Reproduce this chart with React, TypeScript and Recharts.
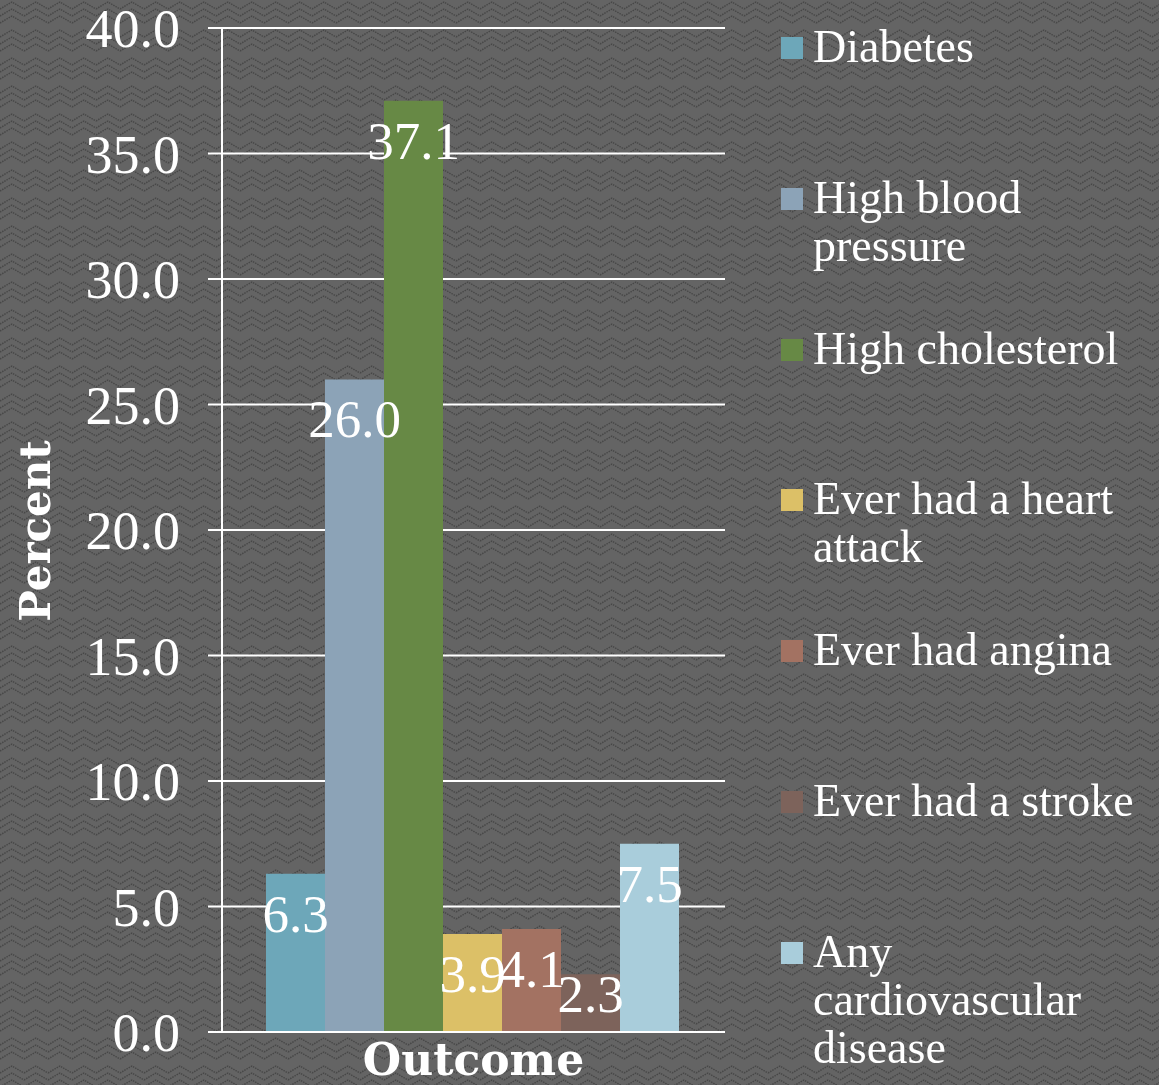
import React from "react";
import {
  BarChart,
  Bar,
  XAxis,
  YAxis,
  CartesianGrid,
  LabelList,
} from "recharts";

// series / values
const categories = ["Outcome"];
const seriesKeys = ["diabetes", "hbp", "chol", "heart", "angina", "stroke", "cvd"];
const seriesNames = [
  "Diabetes",
  "High blood pressure",
  "High cholesterol",
  "Ever had a heart attack",
  "Ever had angina",
  "Ever had a stroke",
  "Any cardiovascular disease",
];
const seriesValues = [6.3, 26.0, 37.1, 3.9, 4.1, 2.3, 7.5];
const seriesColors = ["#6da7b9", "#8ca3b7", "#678945", "#dcc067", "#a37262", "#7d635b", "#a9cddb"];
const yTicks = [0, 5, 10, 15, 20, 25, 30, 35, 40];

const data = categories.map((name) => {
  const row: any = { name };
  seriesKeys.forEach((k, i) => (row[k] = seriesValues[i]));
  return row;
});

const serif = "'Liberation Serif', 'Times New Roman', serif";
const boldSerif = "'DejaVu Serif', serif";

const patternSvg =
  "<svg xmlns='http://www.w3.org/2000/svg' width='24' height='28'>" +
  "<rect width='24' height='28' fill='#646464'/>" +
  "<path d='M0 9 L12 2 L24 9 M0 16 L12 9 L24 16 M0 23 L12 16 L24 23' stroke='#474747' stroke-width='1.5' stroke-dasharray='1.5 1' fill='none'/>" +
  "</svg>";

// label sits ~40px under the bar top, but never below the baseline
const BarValue = (props: any) => {
  const { x, y, width, height, value } = props;
  const cy = Math.min(y + 40, y + height - 38);
  return (
    <text
      x={x + width / 2}
      y={cy}
      textAnchor="middle"
      dominantBaseline="central"
      fill="#ffffff"
      fontSize={53}
      fontFamily={serif}
    >
      {Number(value).toFixed(1)}
    </text>
  );
};

const PercentLabel = () => (
  <text
    x={35}
    y={531}
    transform="rotate(-90, 35, 531)"
    textAnchor="middle"
    dominantBaseline="central"
    fill="#ffffff"
    fontSize={42}
    fontWeight="bold"
    fontFamily={boldSerif}
  >
    Percent
  </text>
);

export default function App() {
  return (
    <div
      style={{
        position: "fixed",
        left: 0,
        top: 0,
        width: 1159,
        height: 1085,
        overflow: "hidden",
        background: `url("data:image/svg+xml;utf8,${encodeURIComponent(patternSvg)}")`,
      }}
    >
      <BarChart
        width={1159}
        height={1085}
        data={data}
        margin={{ top: 28, right: 434, bottom: 0, left: 0 }}
        barCategoryGap={44}
        barGap={0}
      >
        <CartesianGrid vertical={false} stroke="#ffffff" strokeWidth={2} />
        <XAxis
          dataKey="name"
          height={53}
          axisLine={{ stroke: "#ffffff", strokeWidth: 2 }}
          tickLine={false}
          tickSize={0}
          tickMargin={12}
          tick={{ fill: "#ffffff", fontSize: 44, fontWeight: "bold", fontFamily: boldSerif }}
        />
        <YAxis
          width={222}
          domain={[0, 40]}
          ticks={yTicks}
          interval={0}
          tickFormatter={(v: number) => v.toFixed(1)}
          axisLine={{ stroke: "#ffffff", strokeWidth: 2 }}
          tickLine={{ stroke: "#ffffff", strokeWidth: 2 }}
          tickSize={14}
          tickMargin={28}
          tick={{ fill: "#ffffff", fontSize: 54, fontFamily: serif }}
          label={<PercentLabel />}
        />
        {seriesKeys.map((k, i) => (
          <Bar key={k} dataKey={k} name={seriesNames[i]} fill={seriesColors[i]} isAnimationActive={false}>
            <LabelList dataKey={k} content={<BarValue />} />
          </Bar>
        ))}
      </BarChart>

      {/* legend, one slot every ~150px */}
      {seriesNames.map((name, i) => (
        <div
          key={name}
          style={{
            position: "absolute",
            left: 781,
            top: 23 + i * 150.8,
            width: 370,
            display: "flex",
            alignItems: "flex-start",
          }}
        >
          <div
            style={{
              width: 22,
              height: 22,
              marginTop: 14,
              background: seriesColors[i],
              flex: "none",
            }}
          />
          <div
            style={{
              marginLeft: 10,
              width: 338,
              color: "#ffffff",
              fontFamily: serif,
              fontSize: 46,
              lineHeight: "48px",
            }}
          >
            {name}
          </div>
        </div>
      ))}
    </div>
  );
}
